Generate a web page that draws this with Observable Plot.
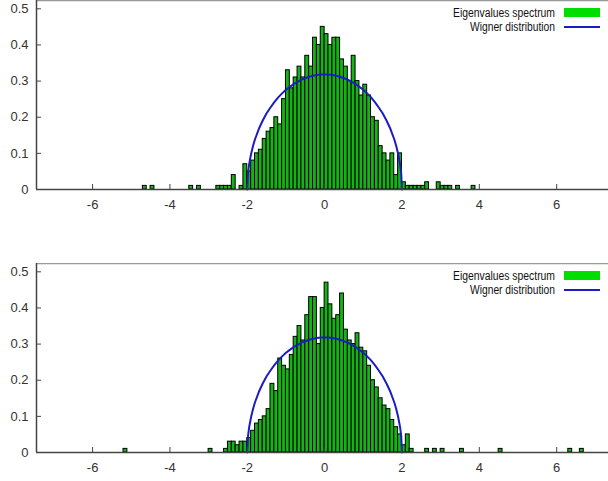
<!DOCTYPE html>
<html><head><meta charset="utf-8">
<script src="https://cdn.jsdelivr.net/npm/d3@7"></script>
<script src="https://cdn.jsdelivr.net/npm/@observablehq/plot@0.6"></script>
<style>
body{margin:0;background:#fff;overflow:hidden}
#wrap svg{display:block}
</style></head><body><div id="wrap"></div>
<script>
// ---- data ----
const binWidth = 0.1;
const topBinStart = [-4.7,-4.5,-3.5,-3.3,-2.8,-2.7,-2.6,-2.5,-2.4,-2.2,-2.1,-2.0,-1.9,-1.8,-1.7,-1.6,-1.5,-1.4,-1.3,-1.2,-1.1,-1.0,-0.9,-0.8,-0.7,-0.6,-0.5,-0.4,-0.3,-0.2,-0.1,0.0,0.1,0.2,0.3,0.4,0.5,0.6,0.7,0.8,0.9,1.0,1.1,1.2,1.3,1.4,1.5,1.6,1.7,1.8,1.9,2.0,2.1,2.2,2.3,2.4,2.5,2.6,2.9,3.0,3.1,3.2,3.4,3.8];
const topHeight   = [0.01,0.01,0.01,0.01,0.01,0.01,0.01,0.01,0.04,0.01,0.07,0.05,0.08,0.10,0.11,0.14,0.16,0.17,0.20,0.18,0.25,0.33,0.28,0.31,0.34,0.31,0.37,0.34,0.42,0.40,0.45,0.43,0.40,0.42,0.42,0.36,0.34,0.30,0.37,0.30,0.26,0.29,0.26,0.20,0.19,0.12,0.10,0.08,0.10,0.04,0.10,0.02,0.01,0.01,0.01,0.01,0.01,0.02,0.02,0.01,0.01,0.01,0.01,0.01];
const botBinStart = [-5.2,-3.0,-2.6,-2.5,-2.4,-2.3,-2.2,-2.1,-2.0,-1.9,-1.8,-1.7,-1.6,-1.5,-1.4,-1.3,-1.2,-1.1,-1.0,-0.9,-0.8,-0.7,-0.6,-0.5,-0.4,-0.3,-0.2,-0.1,0.0,0.1,0.2,0.3,0.4,0.5,0.6,0.7,0.8,0.9,1.0,1.1,1.2,1.3,1.4,1.5,1.6,1.7,1.8,1.9,2.0,2.1,2.2,2.6,2.8,3.0,3.5,4.5,6.3,6.6];
const botHeight   = [0.01,0.01,0.01,0.03,0.03,0.02,0.03,0.03,0.04,0.06,0.08,0.09,0.10,0.12,0.19,0.17,0.26,0.24,0.23,0.27,0.32,0.35,0.31,0.38,0.43,0.43,0.30,0.40,0.47,0.41,0.37,0.38,0.44,0.34,0.31,0.30,0.33,0.29,0.28,0.24,0.20,0.18,0.15,0.13,0.12,0.09,0.07,0.05,0.02,0.05,0.01,0.01,0.01,0.01,0.01,0.01,0.01,0.01];
// Wigner curve, read as points
const wignerX = [-2,-1.98,-1.95,-1.9,-1.85,-1.8,-1.7,-1.6,-1.5,-1.4,-1.3,-1.2,-1.1,-1.0,-0.9,-0.8,-0.7,-0.6,-0.5,-0.4,-0.3,-0.2,-0.1,0,0.1,0.2,0.3,0.4,0.5,0.6,0.7,0.8,0.9,1.0,1.1,1.2,1.3,1.4,1.5,1.6,1.7,1.8,1.85,1.9,1.95,1.98,2];
const wignerY = [0,0.045,0.071,0.099,0.121,0.139,0.168,0.191,0.211,0.227,0.242,0.255,0.266,0.276,0.284,0.292,0.298,0.304,0.308,0.312,0.315,0.317,0.318,0.318,0.318,0.317,0.315,0.312,0.308,0.304,0.298,0.292,0.284,0.276,0.266,0.255,0.242,0.227,0.211,0.191,0.168,0.139,0.121,0.099,0.071,0.045,0];
const xTicks = [-6,-4,-2,0,2,4,6];
const yTicks = [0,0.1,0.2,0.3,0.4,0.5];
const legendLabels = ["Eigenvalues spectrum","Wigner distribution"];

const wigner = wignerX.map((x,i)=>({x, y: wignerY[i]}));
const W = 608, mL = 36, plotH = 189;
const xDomain = [-7.45, 7.34];
const yDomain = [0, 0.523];
const font = "'Liberation Sans', Arial, sans-serif";

function panel(binStart, height, svgH) {
  const bins = binStart.map((b,i)=>({x1:b, x2:+(b+binWidth).toFixed(2), y:height[i]}));
  const p = Plot.plot({
    width: W, height: svgH,
    marginLeft: mL, marginRight: 0, marginTop: 0, marginBottom: svgH - plotH,
    style: {fontFamily: font, fontSize: "13px", color: "#333", background: "#fff"},
    x: {domain: xDomain, label: null},
    y: {domain: yDomain, label: null},
    marks: [
      Plot.rectY(bins, {x1:"x1", x2:"x2", y:"y", fill:"#14b414", stroke:"#000", strokeWidth:1}),
      Plot.line(wigner, {x:"x", y:"y", stroke:"#1c1cc4", strokeWidth:2}),
      Plot.ruleY([yDomain[0]], {stroke:"#444", strokeWidth:1.5}),
      Plot.ruleY([yDomain[1]], {stroke:"#999", strokeWidth:1.5}),
      Plot.ruleX([xDomain[0]], {stroke:"#444", strokeWidth:1.5}),
      Plot.tickX(xTicks, {x:d=>d, insetTop: plotH-5, stroke:"#444"}),
      Plot.tickY(yTicks, {y:d=>d, insetRight: (W-mL)-5, stroke:"#444"}),
      Plot.axisX(xTicks, {label: null, tickSize:0, tickPadding:10, tickFormat:d=>String(d), fill:"#333"}),
      Plot.axisY(yTicks, {label: null, tickSize:0, tickPadding:8, tickFormat:d=>String(d), fill:"#333"})
    ]
  });
  // legend (top right inside frame)
  const s = d3.select(p);
  const g = s.append("g").attr("font-family", font).attr("font-size","12px");
  g.append("text").attr("x",555).attr("y",17).attr("text-anchor","end").attr("fill","#111").attr("textLength",102).attr("lengthAdjust","spacingAndGlyphs").text(legendLabels[0]);
  g.append("rect").attr("x",564).attr("y",8).attr("width",36).attr("height",9).attr("fill","#00dd00");
  g.append("text").attr("x",555).attr("y",31).attr("text-anchor","end").attr("fill","#111").attr("textLength",85).attr("lengthAdjust","spacingAndGlyphs").text(legendLabels[1]);
  g.append("line").attr("x1",564).attr("x2",600).attr("y1",27).attr("y2",27).attr("stroke","#1c1cc4").attr("stroke-width",2);
  return p;
}
const wrap = document.getElementById("wrap");
wrap.appendChild(panel(topBinStart, topHeight, 263));
wrap.appendChild(panel(botBinStart, botHeight, 218));
</script></body></html>
